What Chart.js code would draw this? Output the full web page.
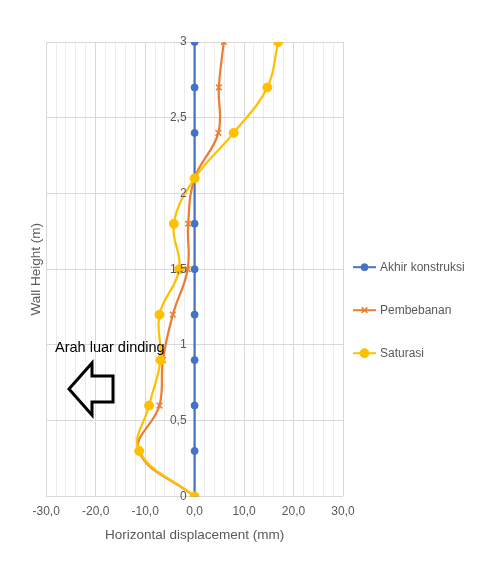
<!DOCTYPE html>
<html>
<head>
<meta charset="utf-8">
<script src="https://cdn.jsdelivr.net/npm/chart.js@4.4.1/dist/chart.umd.min.js"></script>
<style>
  html, body { margin: 0; padding: 0; background: #fff; }
  #wrap { width: 495px; height: 565px; }
</style>
</head>
<body>
<div id="wrap"><canvas id="chart"></canvas></div>
<script>
// wall heights (m) where displacements were read
const heights = [0, 0.3, 0.6, 0.9, 1.2, 1.5, 1.8, 2.1, 2.4, 2.7, 3.0];

// horizontal displacement (mm) per stage
const akhirKonstruksi = [0, 0, 0, 0, 0, 0, 0, 0, 0, 0, 0];
const pembebanan = [0, -11.3, -7.1, -6.4, -4.4, -1.4, -1.3, 0, 4.8, 4.9, 5.9];
const saturasi = [0, -11.2, -9.2, -6.9, -7.1, -3.1, -4.2, 0, 7.9, 14.7, 16.9];

const seriesNames = ["Akhir konstruksi", "Pembebanan", "Saturasi"];
const seriesColors = ["#4472C4", "#ED7D31", "#FFC000"];

const xTicks = [-30, -20, -10, 0, 10, 20, 30];
const yTicks = [0, 0.5, 1, 1.5, 2, 2.5, 3];

const noteText = "Arah luar dinding";

function toPoints(vals)
{
  return vals.map(function (v, i) { return { x: v, y: heights[i] }; });
}

function comma(v, digits)
{
  return (digits === undefined ? String(v) : v.toFixed(digits)).replace(".", ",");
}

const FONT = "'Liberation Sans', Arial, sans-serif";
const GREY = "#595959";

// y tick labels sit beside the x = 0 line, like the Excel chart
const centerYLabels = {
  id: "centerYLabels",
  afterDatasetsDraw(chart) {
    const ctx = chart.ctx;
    const xs = chart.scales.x;
    const ys = chart.scales.y;
    const x0 = xs.getPixelForValue(0);
    ctx.save();
    ctx.font = "12px " + FONT;
    ctx.fillStyle = GREY;
    ctx.textAlign = "right";
    ctx.textBaseline = "middle";
    yTicks.forEach(function (t) {
      ctx.fillText(comma(t), x0 - 8, ys.getPixelForValue(t));
    });
    ctx.restore();
  }
};

const sideLegend = {
  id: "sideLegend",
  afterDraw(chart) {
    const ctx = chart.ctx;
    const area = chart.chartArea;
    const left = area.right + 10;
    const midY = (area.top + area.bottom) / 2;
    const gap = 43;
    ctx.save();
    ctx.font = "12px " + FONT;
    ctx.textBaseline = "middle";
    chart.data.datasets.forEach(function (ds, i) {
      const y = midY - 2 + i * gap;
      ctx.strokeStyle = ds.borderColor;
      ctx.fillStyle = ds.borderColor;
      ctx.lineWidth = 2;
      ctx.beginPath();
      ctx.moveTo(left, y);
      ctx.lineTo(left + 23, y);
      ctx.stroke();
      ctx.lineWidth = ds.pointStyle === "crossRot" ? 1.5 : 1;
      Chart.helpers.drawPoint(ctx, {
        pointStyle: ds.pointStyle,
        radius: ds.pointRadius,
        borderWidth: ctx.lineWidth
      }, left + 11.5, y);
      ctx.fillStyle = GREY;
      ctx.fillText(ds.label, left + 27, y);
    });
    ctx.restore();
  }
};

const arrowNote = {
  id: "arrowNote",
  afterDraw(chart) {
    const ctx = chart.ctx;
    ctx.save();
    ctx.fillStyle = "#000";
    ctx.font = "14.5px " + FONT;
    ctx.textBaseline = "alphabetic";
    ctx.fillText(noteText, 55, 352);
    ctx.strokeStyle = "#000";
    ctx.lineWidth = 3;
    ctx.lineJoin = "miter";
    ctx.beginPath();
    ctx.moveTo(69, 389);
    ctx.lineTo(92, 363);
    ctx.lineTo(92, 376);
    ctx.lineTo(113, 376);
    ctx.lineTo(113, 402);
    ctx.lineTo(92, 402);
    ctx.lineTo(92, 415);
    ctx.closePath();
    ctx.stroke();
    ctx.restore();
  }
};

const values = [akhirKonstruksi, pembebanan, saturasi];
const styles = ["circle", "crossRot", "circle"];
const radii = [3.5, 4, 4.5];

const datasets = values.map(function (vals, i) {
  return {
    label: seriesNames[i],
    data: toPoints(vals),
    order: 2 - i,
    showLine: true,
    tension: 0.4,
    borderColor: seriesColors[i],
    backgroundColor: seriesColors[i],
    borderWidth: 2.25,
    pointStyle: styles[i],
    pointRadius: radii[i],
    pointBorderWidth: i === 1 ? 1.5 : 1,
    pointBorderColor: seriesColors[i],
    pointBackgroundColor: seriesColors[i]
  };
});

new Chart(document.getElementById("chart"), {
  type: "scatter",
  data: { datasets: datasets },
  options: {
    responsive: true,
    maintainAspectRatio: false,
    animation: false,
    layout: { padding: { left: 24, right: 152, top: 42, bottom: 22 } },
    plugins: {
      legend: { display: false },
      tooltip: { enabled: false }
    },
    scales: {
      x: {
        type: "linear",
        min: -30,
        max: 30,
        afterBuildTicks(scale) {
          const t = [];
          for (let v = -30; v <= 30; v += 2) t.push({ value: v });
          scale.ticks = t;
        },
        ticks: {
          autoSkip: false,
          maxRotation: 0,
          padding: 8,
          color: GREY,
          font: { family: FONT, size: 12 },
          callback: function (v) { return xTicks.includes(v) ? comma(v, 1) : ""; }
        },
        grid: {
          drawTicks: false,
          color: function (c) { return c.tick && c.tick.value % 10 === 0 ? "#d9d9d9" : "#ececec"; },
          lineWidth: 1
        },
        border: { display: false },
        title: {
          display: true,
          text: "Horizontal displacement (mm)",
          color: GREY,
          font: { family: FONT, size: 13.5 },
          padding: { top: 0, bottom: 0 }
        }
      },
      y: {
        type: "linear",
        min: 0,
        max: 3,
        ticks: { stepSize: 0.5, display: false },
        grid: { drawTicks: false, color: "#d9d9d9" },
        border: { display: false },
        title: {
          display: true,
          text: "Wall Height (m)",
          color: GREY,
          font: { family: FONT, size: 13.5 },
          padding: { bottom: 2 }
        }
      }
    }
  },
  plugins: [centerYLabels, sideLegend, arrowNote]
});
</script>
</body>
</html>
